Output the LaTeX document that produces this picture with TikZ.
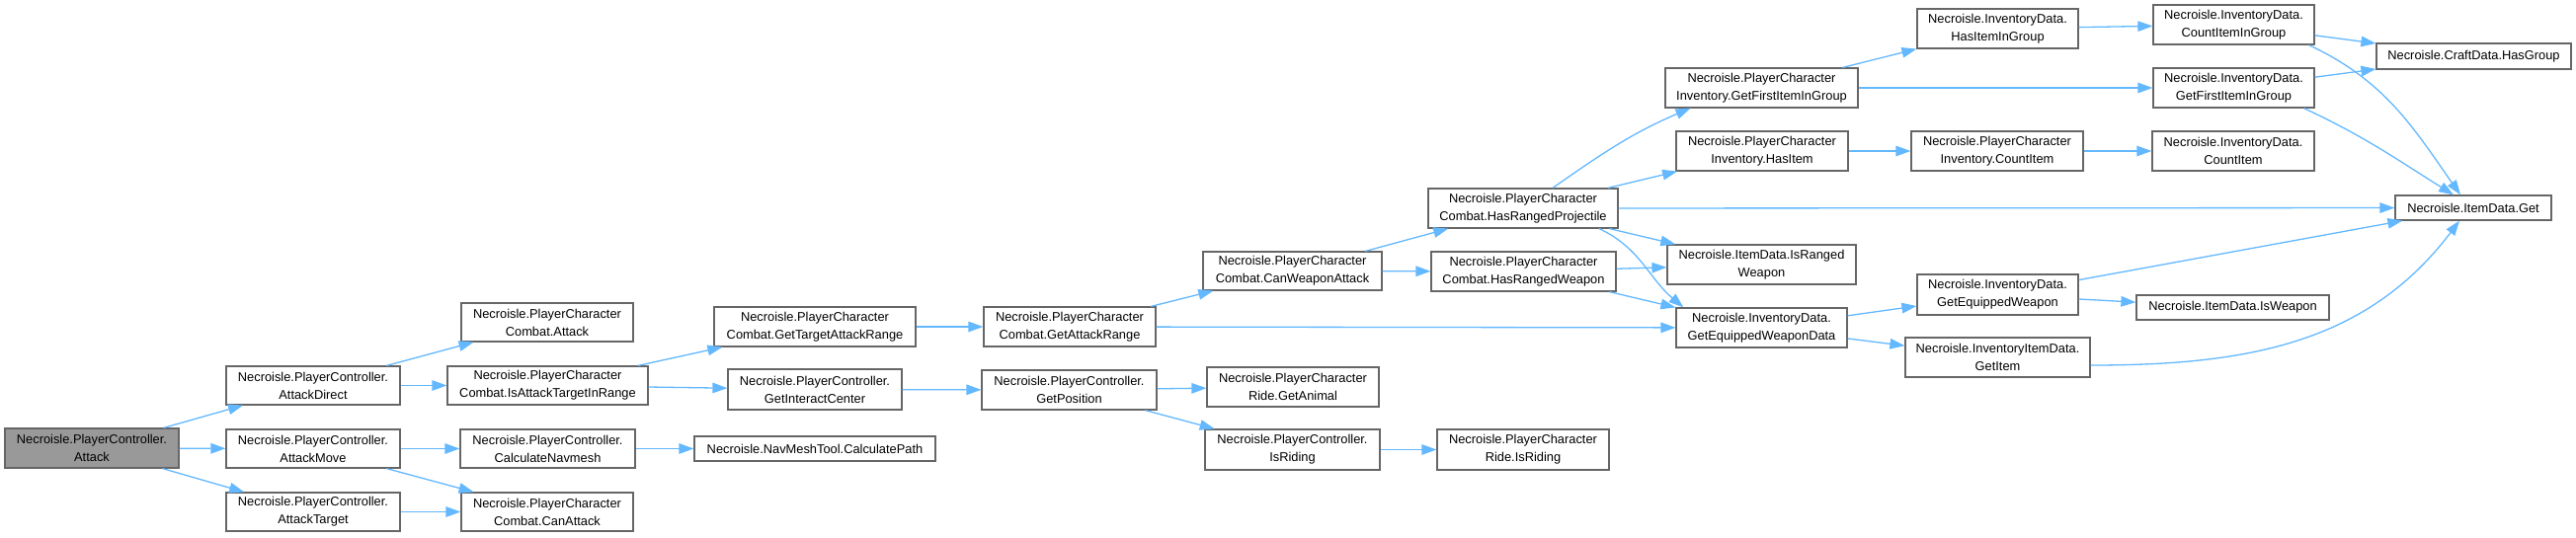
\documentclass[tikz,border=0pt]{standalone}
\usepackage{fontspec}
\setmainfont{Liberation Sans}
\usetikzlibrary{arrows.meta}
\definecolor{edgecol}{HTML}{63B8FF}
\definecolor{boxline}{HTML}{666666}
\definecolor{rootfill}{HTML}{999999}
\tikzset{
  box/.style={draw=boxline, fill=white, line width=1.2pt, inner sep=0pt, align=center,
    font=\fontsize{12.85}{18}\selectfont, text=black},
  rootbox/.style={fill=rootfill},
  conn/.style={draw=edgecol, line width=1.3pt, -{Triangle[length=15pt,width=10.5pt]}},
}
\newcommand{\mynode}[7][]{%
  \pgfmathsetmacro\cx{(#3+#4)/2}\pgfmathsetmacro\cy{(#5+#6)/2}%
  \pgfmathsetmacro\ww{#4-#3}\pgfmathsetmacro\hh{#6-#5}%
  \node[box,#1,minimum width=\ww pt,minimum height=\hh pt] (#2) at (\cx,\cy) {#7};}
\begin{document}
\begin{tikzpicture}[x=1pt,y=-1pt]
\useasboundingbox (0,0) rectangle (2608,544);
\mynode[rootbox]{root}{5}{181}{434}{474}{Necroisle.PlayerController.\\Attack}
\mynode{adir}{229}{405}{371}{410}{Necroisle.PlayerController.\\AttackDirect}
\mynode{amove}{229}{405}{435}{474}{Necroisle.PlayerController.\\AttackMove}
\mynode{atgt}{229}{405}{499}{538}{Necroisle.PlayerController.\\AttackTarget}
\mynode{catk}{467}{641}{307}{346}{Necroisle.PlayerCharacter\\Combat.Attack}
\mynode{iatir}{453}{656}{371}{410}{Necroisle.PlayerCharacter\\Combat.IsAttackTargetInRange}
\mynode{cnav}{466}{643}{435}{474}{Necroisle.PlayerController.\\CalculateNavmesh}
\mynode{canatk}{467}{641}{499}{538}{Necroisle.PlayerCharacter\\Combat.CanAttack}
\mynode{gtar}{723}{927}{311}{351}{Necroisle.PlayerCharacter\\Combat.GetTargetAttackRange}
\mynode{gic}{737}{913}{374}{415}{Necroisle.PlayerController.\\GetInteractCenter}
\mynode{cpath}{703}{947}{442}{467}{Necroisle.NavMeshTool.CalculatePath}
\mynode{gar}{996}{1170}{311}{351}{Necroisle.PlayerCharacter\\Combat.GetAttackRange}
\mynode{gpos}{994}{1171}{375}{415}{Necroisle.PlayerController.\\GetPosition}
\mynode{cwa}{1218}{1399}{255}{294}{Necroisle.PlayerCharacter\\Combat.CanWeaponAttack}
\mynode{ganim}{1222}{1396}{372}{412}{Necroisle.PlayerCharacter\\Ride.GetAnimal}
\mynode{isr}{1220}{1397}{435}{476}{Necroisle.PlayerController.\\IsRiding}
\mynode{risr}{1455}{1629}{435}{476}{Necroisle.PlayerCharacter\\Ride.IsRiding}
\mynode{hrp}{1446}{1638}{191}{231}{Necroisle.PlayerCharacter\\Combat.HasRangedProjectile}
\mynode{hrw}{1449}{1636}{255}{295}{Necroisle.PlayerCharacter\\Combat.HasRangedWeapon}
\mynode{gfipci}{1686}{1881}{69}{109}{Necroisle.PlayerCharacter\\Inventory.GetFirstItemInGroup}
\mynode{hitem}{1697}{1871}{133}{173}{Necroisle.PlayerCharacter\\Inventory.HasItem}
\mynode{irw}{1688}{1879}{248}{288}{Necroisle.ItemData.IsRanged\\Weapon}
\mynode{gewd}{1697}{1870}{312}{352}{Necroisle.InventoryData.\\GetEquippedWeaponData}
\mynode{hiig}{1941}{2104}{9}{49}{Necroisle.InventoryData.\\HasItemInGroup}
\mynode{cipci}{1935}{2109}{133}{173}{Necroisle.PlayerCharacter\\Inventory.CountItem}
\mynode{gew}{1941}{2104}{278}{319}{Necroisle.InventoryData.\\GetEquippedWeapon}
\mynode{gitem}{1929}{2116}{342}{382}{Necroisle.InventoryItemData.\\GetItem}
\mynode{ciig}{2180}{2343}{5}{45}{Necroisle.InventoryData.\\CountItemInGroup}
\mynode{gfiid}{2180}{2343}{69}{109}{Necroisle.InventoryData.\\GetFirstItemInGroup}
\mynode{ciid}{2179}{2343}{133}{173}{Necroisle.InventoryData.\\CountItem}
\mynode{isw}{2163}{2358}{299}{324}{Necroisle.ItemData.IsWeapon}
\mynode{hgrp}{2406}{2603}{44}{70}{Necroisle.CraftData.HasGroup}
\mynode{get}{2425}{2583}{198}{223}{Necroisle.ItemData.Get}
% edges
\draw[conn] (root) -- (adir);
\draw[conn] (root) -- (amove);
\draw[conn] (root) -- (atgt);
\draw[conn] (adir) -- (catk);
\draw[conn] (adir) -- (iatir);
\draw[conn] (amove) -- (cnav);
\draw[conn] (amove) -- (canatk);
\draw[conn] (atgt) -- (canatk);
\draw[conn] (iatir) -- (gtar);
\draw[conn] (iatir) -- (gic);
\draw[conn] (cnav) -- (cpath);
\draw[conn] (gtar) -- (gar);
\draw[conn] (gic) -- (gpos);
\draw[conn] (gar) -- (cwa);
\draw[conn] (gar) -- (gewd);
\draw[conn] (gpos) -- (ganim);
\draw[conn] (gpos) -- (isr);
\draw[conn] (isr) -- (risr);
\draw[conn] (cwa) -- (hrp);
\draw[conn] (cwa) -- (hrw);
\draw[conn] ([xshift=30pt]hrp.north) to[out=35,in=203] ([xshift=-72pt]gfipci.south);
\draw[conn] (hrp) -- (hitem);
\draw[conn] (hrp) -- (get);
\draw[conn] (hrp) -- (irw);
\draw[conn] ([xshift=77pt]hrp.south) to[out=-25,in=140] ([xshift=8pt]gewd.north west);
\draw[conn] (hrw) -- (irw);
\draw[conn] (hrw) -- (gewd);
\draw[conn] (gfipci) -- (hiig);
\draw[conn] (gfipci) -- (gfiid);
\draw[conn] (hitem) -- (cipci);
\draw[conn] (cipci) -- (ciid);
\draw[conn] (hiig) -- (ciig);
\draw[conn] (ciig) -- (hgrp);
\draw[conn] ([xshift=76pt]ciig.south) to[out=-25,in=125] ([xshift=-13pt]get.north);
\draw[conn] (gfiid) -- (hgrp);
\draw[conn] ([xshift=71pt]gfiid.south) to[out=-25,in=148] ([xshift=-20pt]get.north);
\draw[conn] (gewd) -- (gew);
\draw[conn] (gewd) -- (gitem);
\draw[conn] (gew) -- (get);
\draw[conn] (gew) -- (isw);
\draw[conn] ([yshift=-8pt]gitem.east) to[out=0,in=233] ([xshift=-14pt]get.south);
\end{tikzpicture}
\end{document}
